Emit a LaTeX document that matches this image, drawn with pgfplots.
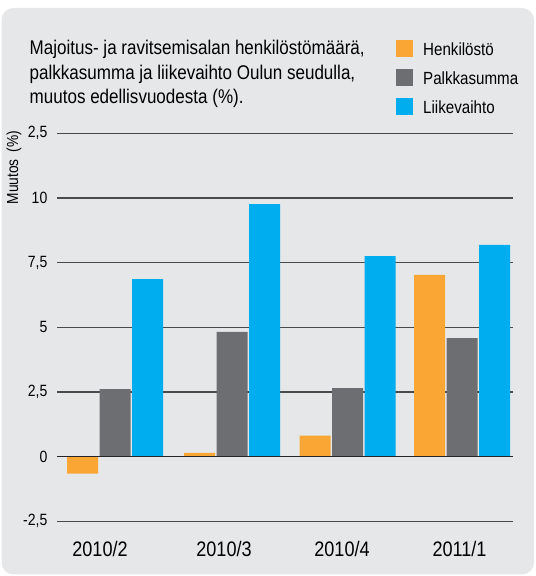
\documentclass[border=0pt]{standalone}
\usepackage{pgfplots}
\pgfplotsset{compat=1.18}
\usepackage{fontspec}
\setmainfont{Liberation Sans}[FakeStretch=0.86]
\definecolor{bg}{HTML}{E6E7E9}
\definecolor{cor}{HTML}{F9A634}
\definecolor{cgr}{HTML}{6D6E71}
\definecolor{cbl}{HTML}{00AEEF}
\definecolor{gridc}{HTML}{4A4A4A}
\begin{document}
\begin{tikzpicture}[x=1bp,y=1bp]
\path (0,0) rectangle (536,576);
\fill[bg, rounded corners=12bp] (1.5,1.5) rectangle (534,568);
\node[anchor=base west, inner sep=0pt, font=\fontsize{19.8bp}{24bp}\selectfont] at (29.5,521) {Majoitus- ja ravitsemisalan henkilöstömäärä,};
\node[anchor=base west, inner sep=0pt, font=\fontsize{19.8bp}{24bp}\selectfont] at (29.5,496.7) {palkkasumma ja liikevaihto Oulun seudulla,};
\node[anchor=base west, inner sep=0pt, font=\fontsize{19.8bp}{24bp}\selectfont] at (29.5,472.7) {muutos edellisvuodesta (\%).};
\node[rotate=90, inner sep=0pt, font=\fontsize{16bp}{18bp}\selectfont] at (14,408.5) {Muutos\hspace{7bp}(\%)};
\begin{axis}[
  at={(57bp,54.7bp)}, anchor=south west, scale only axis,
  width=456bp, height=388.1bp,
  xmin=57, xmax=513, ymin=-2.5, ymax=12.5, enlargelimits=false,
  ybar=1.5bp, bar width=31bp,
  axis line style={draw=none}, major tick length=0pt,
  ytick={-2.5,0,2.5,5,7.5,10,12.5},
  yticklabels={{-2,5},{0},{2,5},{5},{7,5},{10},{2,5}},
  yticklabel style={anchor=east, inner sep=0pt, xshift=-9.5bp, font=\fontsize{16.3bp}{18bp}\selectfont},
  xtick={100,224,342,459.5},
  xticklabels={2010/2,2010/3,2010/4,2011/1},
  xticklabel style={anchor=north, inner sep=0pt, yshift=-20bp, font=\fontsize{21bp}{24bp}\selectfont},
  ymajorgrids, grid style={gridc, line width=1.3bp},
  clip=false,
  legend cell align=left,
  legend style={at={(0.7434,1.2401)}, anchor=north west, draw=none, fill=none,
    inner sep=0pt, row sep=12bp, column sep=0pt,
    nodes={inner sep=0pt, text height=15bp, text depth=2bp, font=\fontsize{17.6bp}{20bp}\selectfont}},
  legend image code/.code={\fill[#1] (0bp,-8.5bp) rectangle (17bp,8.5bp); \path (27bp,0bp);},
]
\addplot[fill=cor, draw=none] coordinates {(115,-0.66) (232,0.14) (347.5,0.81) (462,7.02)};
\addplot[fill=cgr, draw=none] coordinates {(115,2.61) (232,4.82) (347.5,2.65) (462,4.58)};
\addplot[fill=cbl, draw=none] coordinates {(115,6.86) (232,9.76) (347.5,7.75) (462,8.18)};
\legend{Henkilöstö,Palkkasumma,Liikevaihto}
\draw[black!85, line width=1.6bp] (axis cs:57,0) -- (axis cs:513,0);
\end{axis}
\end{tikzpicture}
\end{document}
